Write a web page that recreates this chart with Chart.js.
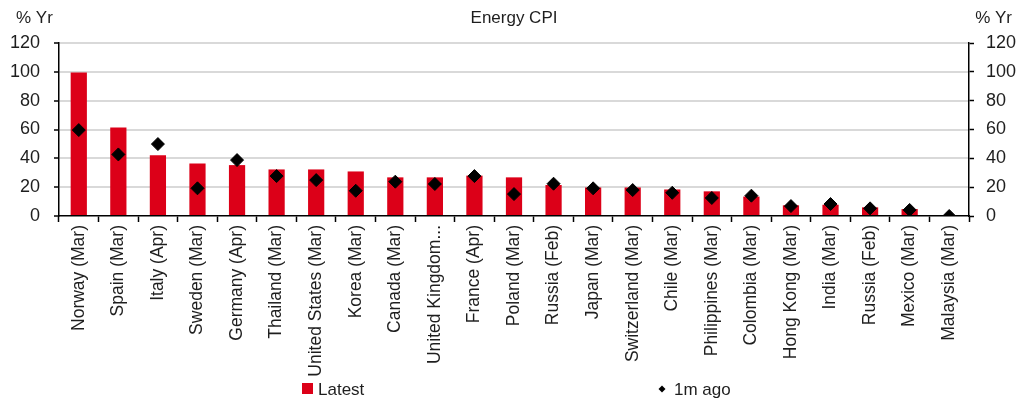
<!DOCTYPE html>
<html>
<head>
<meta charset="utf-8">
<title>Energy CPI</title>
<script src="https://cdn.jsdelivr.net/npm/chart.js@4.4.1/dist/chart.umd.min.js"></script>
<style>
  html, body { margin: 0; padding: 0; background: #ffffff; }
  #wrap { width: 1032px; height: 403px; }
</style>
</head>
<body>
<div id="wrap"><canvas id="chart" width="1032" height="403"></canvas></div>
<script>
// Energy CPI, % year on year: latest reading and reading one month earlier
const categories = [
  'Norway (Mar)', 'Spain (Mar)', 'Italy (Apr)', 'Sweden (Mar)', 'Germany (Apr)',
  'Thailand (Mar)', 'United States (Mar)', 'Korea (Mar)', 'Canada (Mar)',
  'United Kingdom...', 'France (Apr)', 'Poland (Mar)', 'Russia (Feb)', 'Japan (Mar)',
  'Switzerland (Mar)', 'Chile (Mar)', 'Philippines (Mar)', 'Colombia (Mar)',
  'Hong Kong (Mar)', 'India (Mar)', 'Russia (Feb)', 'Mexico (Mar)', 'Malaysia (Mar)'
];
const latest = [
  99.5, 61.4, 42.2, 36.5, 35.3, 32.3, 32.3, 30.9, 26.8, 26.8, 28.0, 26.8,
  21.5, 19.8, 19.8, 18.4, 17.1, 13.5, 7.4, 7.8, 6.0, 4.8, 0
];
const oneMonthAgo = [
  59.6, 42.7, 49.9, 19.2, 38.8, 27.7, 24.9, 17.5, 23.8, 22.2, 27.7, 15.2,
  22.4, 19.2, 18.0, 16.1, 12.5, 14.1, 6.9, 8.3, 5.3, 4.2, 0
];
const yTickValues = [0, 20, 40, 60, 80, 100, 120];
const chartTitle = 'Energy CPI';
const unitLabel = '% Yr';

const FONT = "'Liberation Sans', Arial, sans-serif";
const TEXT = '#1e1e1e';
const RED = '#dc0018';
const GRID = '#d9d9d9';

function useTickValues(scale) {
  scale.ticks = yTickValues.map(v => ({ value: v }));
}

// Title, unit captions and the bottom legend
const annotations = {
  id: 'annotations',
  afterDraw(chart) {
    const ctx = chart.ctx;
    ctx.save();
    ctx.fillStyle = TEXT;
    ctx.font = '17px ' + FONT;
    ctx.textBaseline = 'middle';
    ctx.textAlign = 'center';
    ctx.fillText(chartTitle, 514, 18);
    ctx.textAlign = 'left';
    ctx.fillText(unitLabel, 16, 18);
    ctx.textAlign = 'right';
    ctx.fillText(unitLabel, 1012, 18);

    const ds = chart.data.datasets;
    // bar series key
    ctx.fillStyle = ds[0].backgroundColor;
    ctx.fillRect(302, 383, 11, 11);
    ctx.fillStyle = TEXT;
    ctx.textAlign = 'left';
    ctx.fillText(ds[0].label, 318, 390);
    // marker series key
    ctx.fillStyle = ds[1].backgroundColor;
    ctx.beginPath();
    ctx.moveTo(662, 385.5);
    ctx.lineTo(665.5, 389);
    ctx.lineTo(662, 392.5);
    ctx.lineTo(658.5, 389);
    ctx.closePath();
    ctx.fill();
    ctx.fillStyle = TEXT;
    ctx.fillText(ds[1].label, 674, 390);
    ctx.restore();
  }
};

new Chart(document.getElementById('chart'), {
  data: {
    labels: categories,
    datasets: [
      {
        type: 'bar',
        label: 'Latest',
        data: latest,
        backgroundColor: RED,
        borderWidth: 0,
        categoryPercentage: 1,
        barPercentage: 0.41,
        yAxisID: 'y',
        order: 2
      },
      {
        type: 'line',
        label: '1m ago',
        data: oneMonthAgo,
        showLine: false,
        pointStyle: 'rectRot',
        pointRadius: 6.5,
        pointHoverRadius: 6.5,
        backgroundColor: '#000000',
        borderColor: '#000000',
        pointBorderWidth: 1,
        yAxisID: 'y',
        order: 1
      }
    ]
  },
  options: {
    responsive: false,
    animation: false,
    events: [],
    layout: { padding: { top: 43, right: 0, bottom: 0, left: 0 } },
    plugins: {
      legend: { display: false },
      title: { display: false },
      tooltip: { enabled: false }
    },
    scales: {
      x: {
        type: 'category',
        offset: true,
        grid: {
          offset: true,
          drawOnChartArea: false,
          drawTicks: true,
          tickLength: 6,
          tickColor: '#000000',
          tickWidth: 1.5
        },
        border: { display: true, color: '#000000', width: 1.5 },
        ticks: {
          autoSkip: false,
          minRotation: 90,
          maxRotation: 90,
          padding: 3,
          color: TEXT,
          font: { family: FONT, size: 17.5 }
        },
        afterFit(scale) { scale.height = 187; }
      },
      y: {
        type: 'linear',
        position: 'left',
        min: 0,
        max: 120,
        afterBuildTicks: useTickValues,
        grid: {
          drawOnChartArea: true,
          color: ctx => (ctx.tick && ctx.tick.value === 0) ? 'rgba(0,0,0,0)' : GRID,
          lineWidth: 2,
          tickColor: '#000000',
          tickLength: 5,
          tickWidth: 1.5
        },
        border: { display: true, color: '#000000', width: 1.5 },
        ticks: {
          padding: 14,
          color: TEXT,
          font: { family: FONT, size: 18 }
        },
        afterFit(scale) { scale.width = 59; }
      },
      yRight: {
        type: 'linear',
        position: 'right',
        min: 0,
        max: 120,
        afterBuildTicks: useTickValues,
        grid: {
          drawOnChartArea: false,
          tickColor: '#000000',
          tickLength: 5,
          tickWidth: 1.5
        },
        border: { display: true, color: '#000000', width: 1.5 },
        ticks: {
          padding: 12,
          color: TEXT,
          font: { family: FONT, size: 18 }
        },
        afterFit(scale) { scale.width = 63; }
      }
    }
  },
  plugins: [annotations]
});
</script>
</body>
</html>
